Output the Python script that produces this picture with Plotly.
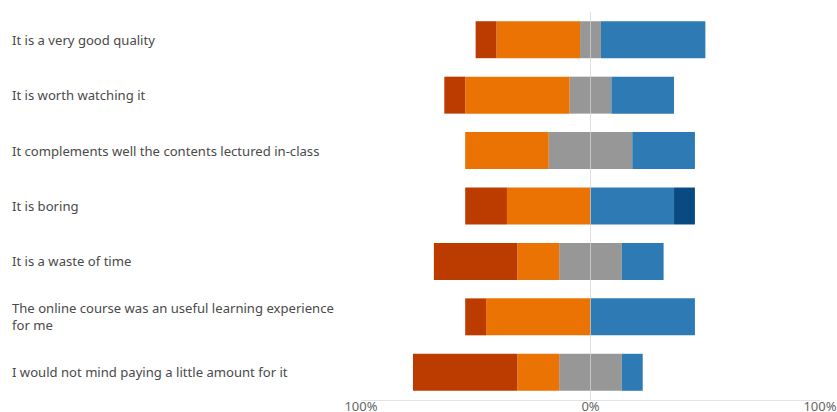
import plotly.graph_objects as go

# Survey statements, top to bottom
statements = [
    "It is a very good quality",
    "It is worth watching it",
    "It complements well the contents lectured in-class",
    "It is boring",
    "It is a waste of time",
    "The online course was an useful learning experience<br>for me",
    "I would not mind paying a little amount for it",
]

# Response shares in percent
strongly_disagree = [9.1, 9.1, 0.0, 18.2, 36.4, 9.1, 45.5]
disagree = [36.4, 45.5, 36.4, 36.4, 18.2, 45.5, 18.2]
neutral = [9.1, 18.2, 36.4, 0.0, 27.3, 0.0, 27.3]
agree = [45.5, 27.3, 27.3, 36.4, 18.2, 45.5, 9.1]
strongly_agree = [0.0, 0.0, 0.0, 9.1, 0.0, 0.0, 0.0]

tick_vals = [-100, 0, 100]
tick_text = ["100%", "0%", "100%"]

C_SD = "#BC3C00"
C_D = "#EA7304"
C_N = "#979797"
C_A = "#2D7AB4"
C_SA = "#0A4A82"

y_keys = list(range(len(statements)))

fig = go.Figure()

def add(vals, color, name, sign=1.0, factor=1.0):
    fig.add_trace(go.Bar(
        y=y_keys, x=[sign * factor * v for v in vals], orientation="h",
        marker=dict(color=color, line=dict(width=0)), name=name,
        showlegend=False,
    ))

# neutral is split evenly around zero; inner segments first
add(neutral, C_N, "Neutral", -1, 0.5)
add(neutral, C_N, "Neutral", 1, 0.5)
add(disagree, C_D, "Disagree", -1)
add(agree, C_A, "Agree", 1)
add(strongly_disagree, C_SD, "Strongly disagree", -1)
add(strongly_agree, C_SA, "Strongly agree", 1)

W, H = 837, 412
L, R, T, B = 361, 17, 11.5, 12
pw = W - L - R

for i, s in enumerate(statements):
    fig.add_annotation(
        x=(10 - L) / pw, xref="paper", y=i, yref="y",
        text=s, showarrow=False, xanchor="left", yanchor="middle",
        align="left",
        font=dict(family="Noto Sans", size=13.1, color="#4a4a4a"),
    )

fig.add_shape(type="line", xref="x", yref="paper", x0=0, x1=0, y0=0, y1=1,
              line=dict(color="rgba(215,215,215,0.55)", width=1), layer="above")

fig.update_layout(
    width=W, height=H,
    margin=dict(l=L, r=R, t=T, b=B, autoexpand=False),
    barmode="relative", bargap=0.333,
    plot_bgcolor="white", paper_bgcolor="white",
    xaxis=dict(range=[-100, 100], tickvals=tick_vals, ticktext=tick_text,
               showgrid=True, gridcolor="#ececec", gridwidth=1,
               zeroline=False, showline=True, linecolor="#e3e3e3",
               ticks="", ticklabelstandoff=-6,
               tickfont=dict(family="Noto Sans", size=13, color="#666666")),
    yaxis=dict(range=[len(statements) - 0.5, -0.5], showticklabels=False,
               showgrid=False, zeroline=False, showline=False, ticks=""),
)

fig.write_html("out.html")
